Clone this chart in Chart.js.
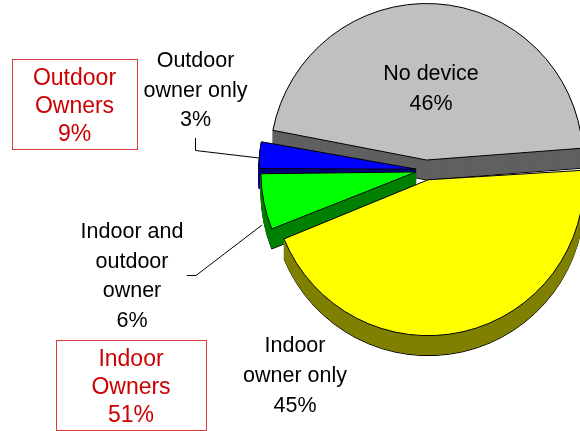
<!DOCTYPE html>
<html>
<head>
<meta charset="utf-8">
<script src="https://cdn.jsdelivr.net/npm/chart.js@4/dist/chart.umd.min.js"></script>
<style>
  body { margin: 0; background: #fff; }
  #wrap { position: relative; width: 580px; height: 431px; overflow: hidden; font-family: "Liberation Sans", Arial, sans-serif; }
  #c { position: absolute; left: 0; top: 0; }
  .lbl { position: absolute; width: 200px; text-align: center; color: #000; font-size: 21.5px; white-space: nowrap; }
  .box { position: absolute; border: 1px solid #dd3a3a; box-sizing: border-box; }
  .grp { position: absolute; width: 200px; text-align: center; color: #cc0000; font-size: 23px; line-height: 28px; white-space: nowrap; }
</style>
</head>
<body>
<div id="wrap">
  <canvas id="c" width="852" height="431"></canvas>
</div>
<script>
// slices, clockwise from the left edge of "No device"
const categories = ["No device", "Indoor owner only", "Indoor and outdoor owner", "Outdoor owner only"];
const shares = [46, 45, 6, 3];
const labelLines = [["No device"], ["Indoor", "owner only"], ["Indoor and", "outdoor", "owner"], ["Outdoor", "owner only"]];

// group totals shown in the red boxes
const groups = [["Outdoor", "Owners"], ["Indoor", "Owners"]];
const groupShares = [9, 51];

const topColors  = ["#c0c0c0", "#ffff00", "#00ff00", "#0000ff"];
const sideColors = ["#606060", "#808000", "#008000", "#000080"];
const DEPTH = 20;

// label placement: centre x, first line centre y, line height
const labelPos = [[431, 73, 30], [295, 345, 30], [132, 232, 29.5], [195.5, 61, 29.5]];
const boxPos = [[12, 59, 126, 91, 74.5, 77], [56, 340, 151, 91, 131, 358]];

const wrap = document.getElementById("wrap");
labelLines.forEach((lines, i) => {
  const [cx, y0, lh] = labelPos[i];
  const d = document.createElement("div");
  d.className = "lbl";
  d.style.left = (cx - 100) + "px";
  d.style.top = (y0 - lh / 2) + "px";
  d.style.lineHeight = lh + "px";
  d.innerHTML = [...lines, shares[i] + "%"].join("<br>");
  wrap.appendChild(d);
});
groups.forEach((lines, i) => {
  const [x, y, w, h, cx, y0] = boxPos[i];
  const b = document.createElement("div");
  b.className = "box";
  Object.assign(b.style, { left: x + "px", top: y + "px", width: w + "px", height: h + "px" });
  wrap.appendChild(b);
  const t = document.createElement("div");
  t.className = "grp";
  t.style.left = (cx - 100) + "px";
  t.style.top = (y0 - 14) + "px";
  t.innerHTML = [...lines, groupShares[i] + "%"].join("<br>");
  wrap.appendChild(t);
});

// extruded sides drawn under the slice tops, back to front
const depth3d = {
  id: "depth3d",
  beforeDatasetsDraw(chart) {
    const ctx = chart.ctx;
    const arcs = chart.getDatasetMeta(0).data;
    [0, 3, 2, 1].forEach(i => {
      const arc = arcs[i];
      const o = arc.options;
      for (let k = DEPTH; k >= 1; k--) {
        arc.options = Object.assign({}, o, {
          backgroundColor: sideColors[i],
          borderColor: k === DEPTH ? "#000" : sideColors[i],
        });
        ctx.save();
        ctx.translate(0, k);
        arc.draw(ctx);
        ctx.restore();
      }
      arc.options = o;
    });
  },
};

const leaders = {
  id: "leaders",
  afterDraw(chart) {
    const ctx = chart.ctx;
    ctx.save();
    ctx.strokeStyle = "#000";
    ctx.lineWidth = 1;
    ctx.beginPath();
    ctx.moveTo(195.5, 138); ctx.lineTo(195.5, 150.5); ctx.lineTo(259, 158);
    ctx.moveTo(187, 275.5); ctx.lineTo(196, 275.5); ctx.lineTo(262, 225);
    ctx.stroke();
    ctx.restore();
  },
};

new Chart(document.getElementById("c"), {
  type: "pie",
  data: {
    labels: categories,
    datasets: [{
      data: shares,
      backgroundColor: topColors,
      borderColor: "#000",
      borderWidth: 1,
      offset: 40,
      hoverOffset: 0,
      radius: 149,
    }],
  },
  options: {
    responsive: false,
    devicePixelRatio: 1,
    animation: false,
    events: [],
    rotation: 280.5,
    layout: { padding: { bottom: 91 } },
    plugins: { legend: { display: false }, tooltip: { enabled: false } },
  },
  plugins: [depth3d, leaders],
});
</script>
</body>
</html>
